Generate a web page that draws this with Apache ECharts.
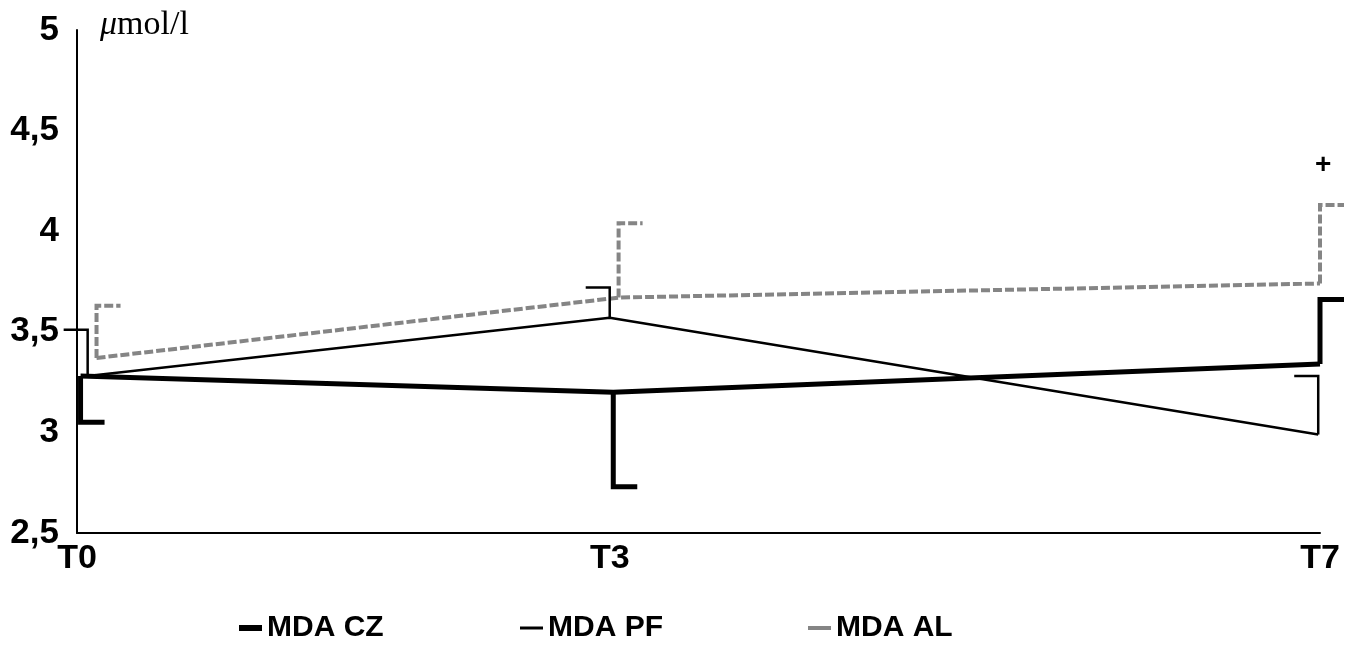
<!DOCTYPE html>
<html>
<head>
<meta charset="utf-8">
<title>MDA</title>
<script src="https://cdn.jsdelivr.net/npm/echarts@6/dist/echarts.min.js"></script>
<style>
  html, body { margin: 0; padding: 0; background: #fff; }
  #main { width: 1356px; height: 650px; }
</style>
</head>
<body>
<div id="main"></div>
<script>
  // giorni di prelievo (T0, T3, T7) e ticks asse y
  var dayTicks = [0, 3, 7];
  var yTicks = [2.5, 3, 3.5, 4, 4.5, 5];
  var seriesNames = ['MDA CZ', 'MDA PF', 'MDA AL'];

  // posizioni x (in giorni, leggermente sfalsate come nell'originale)
  var czDays = [0.02, 3.02, 7];
  var pfDays = [0.06, 3, 6.99];
  var alDays = [0.11, 3.05, 7];

  // valori medi (µmol/l)
  var czValues = [3.28, 3.20, 3.34];
  var pfValues = [3.28, 3.57, 2.99];
  var alValues = [3.37, 3.67, 3.74];

  // semibarre d'errore (segno = verso)
  var czErr = [-0.23, -0.47, 0.32];
  var pfErr = [0.23, 0.15, 0.29];
  var alErr = [0.26, 0.37, 0.39];

  function pts(days, vals) {
    return days.map(function (d, i) { return [d, vals[i]]; });
  }
  function errPts(days, vals, errs) {
    return days.map(function (d, i) { return [d, vals[i], errs[i]]; });
  }

  // disegna la semibarra con il "cappuccio" orizzontale
  function errRender(capDir, color, width, dash) {
    return function (params, api) {
      var x = api.value(0), y = api.value(1), e = api.value(2);
      var p0 = api.coord([x, y]);
      var p1 = api.coord([x, y + e]);
      return {
        type: 'polyline',
        shape: { points: [p0, p1, [p1[0] + capDir * 24, p1[1]]] },
        style: { stroke: color, lineWidth: width, fill: null, lineDash: dash, lineJoin: 'miter' }
      };
    };
  }

  var font = "'Liberation Sans', Arial, sans-serif";
  var alColor = '#858585';

  // una legenda per voce, così ogni icona ha il suo spessore
  function legendFor(name, left, h) {
    return {
      data: [{ name: name, icon: 'rect' }],
      left: left,
      top: 613,
      padding: 0,
      itemWidth: 23,
      itemHeight: h,
      itemStyle: { borderWidth: 0 },
      lineStyle: { width: 0 },
      textStyle: { fontFamily: font, fontSize: 30, fontWeight: 'bold', color: '#000' }
    };
  }

  var option = {
    animation: false,
    backgroundColor: '#fff',
    grid: { left: 77, right: 36, top: 30, bottom: 117 },
    legend: [
      legendFor(seriesNames[0], 239, 6),
      legendFor(seriesNames[1], 520, 3),
      legendFor(seriesNames[2], 808, 4)
    ],
    xAxis: {
      type: 'value',
      min: 0,
      max: 7,
      interval: 1,
      axisLine: { lineStyle: { color: '#000', width: 2 } },
      axisTick: { show: false },
      splitLine: { show: false },
      axisLabel: {
        fontFamily: font,
        fontSize: 34,
        fontWeight: 'bold',
        color: '#000',
        margin: 9,
        formatter: function (v) { return dayTicks.indexOf(v) >= 0 ? 'T' + v : ''; }
      }
    },
    yAxis: {
      type: 'value',
      min: yTicks[0],
      max: yTicks[yTicks.length - 1],
      interval: 0.5,
      axisLine: { show: true, lineStyle: { color: '#000', width: 2 } },
      axisTick: { show: false },
      splitLine: { show: false },
      axisLabel: {
        fontFamily: font,
        fontSize: 35,
        fontWeight: 'bold',
        color: '#000',
        margin: 18,
        padding: [7, 0, 0, 0],
        formatter: function (v) { return String(v).replace('.', ','); }
      }
    },
    graphic: [
      {
        type: 'text',
        left: 100,
        top: 8,
        style: {
          text: '{i|μ}mol/l',
          font: "34px 'Liberation Serif', 'Times New Roman', serif",
          fill: '#000',
          rich: { i: { fontStyle: 'italic', fontFamily: "'Liberation Serif', serif", fontSize: 34 } }
        }
      },
      {
        type: 'text',
        left: 1315,
        top: 151,
        style: { text: '+', font: "bold 28px 'Liberation Sans', sans-serif", fill: '#000' }
      }
    ],
    series: [
      {
        name: seriesNames[0],
        type: 'line',
        symbol: 'none',
        color: '#000',
        lineStyle: { color: '#000', width: 5 },
        data: pts(czDays, czValues),
        z: 4
      },
      {
        name: seriesNames[1],
        type: 'line',
        symbol: 'none',
        color: '#000',
        lineStyle: { color: '#000', width: 2.5 },
        data: pts(pfDays, pfValues),
        z: 3
      },
      {
        name: seriesNames[2],
        type: 'line',
        symbol: 'none',
        color: alColor,
        lineStyle: { color: alColor, width: 4, type: [9, 3] },
        data: pts(alDays, alValues),
        z: 2
      },
      {
        name: 'err CZ',
        type: 'custom',
        renderItem: errRender(1, '#000', 5, null),
        data: errPts(czDays, czValues, czErr),
        z: 4
      },
      {
        name: 'err PF',
        type: 'custom',
        renderItem: errRender(-1, '#000', 2.5, null),
        data: errPts(pfDays, pfValues, pfErr),
        z: 3
      },
      {
        name: 'err AL',
        type: 'custom',
        renderItem: errRender(1, alColor, 4, [9, 3]),
        data: errPts(alDays, alValues, alErr),
        z: 2
      }
    ]
  };

  var myChart = echarts.init(document.getElementById('main'));
  myChart.setOption(option);
</script>
</body>
</html>
